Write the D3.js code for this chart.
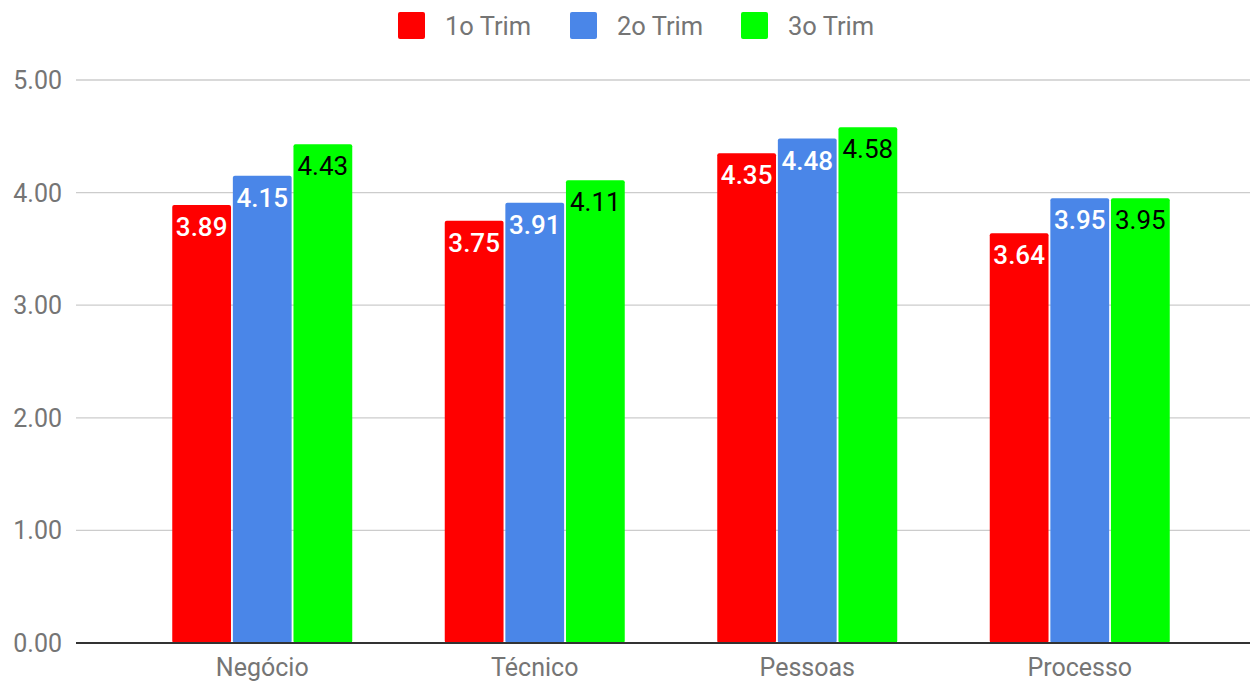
<!DOCTYPE html>
<html><head><meta charset="utf-8">
<script src="https://cdn.jsdelivr.net/npm/d3@7"></script>
<style>body{margin:0;background:#fff;}svg{display:block;font-family:Roboto,sans-serif;}</style>
</head><body><svg id="c" width="1253" height="682"></svg>
<script>
const categories = ["Negócio", "Técnico", "Pessoas", "Processo"];
const seriesNames = ["1o Trim", "2o Trim", "3o Trim"];
const trim1 = [3.89, 3.75, 4.35, 3.64];
const trim2 = [4.15, 3.91, 4.48, 3.95];
const trim3 = [4.43, 4.11, 4.58, 3.95];
const yTicks = [0, 1, 2, 3, 4, 5];
const colors = ["#ff0000", "#4a86e8", "#00ff00"];
const labelColors = ["#ffffff", "#ffffff", "#000000"];
const series = [trim1, trim2, trim3];

const svg = d3.select("#c");
const y = d3.scaleLinear().domain([0, 5]).range([643, 80]);
const x0 = d3.scaleBand().domain(categories).range([126, 1216]).paddingInner(0).paddingOuter(0);
const groupW = 180;
const x1 = d3.scaleBand().domain(seriesNames).range([0, groupW]).paddingInner(0.03);

// gridlines
const gridX1 = 76, gridX2 = 1250;
svg.append("g").selectAll("line").data(yTicks.filter(d => d > 0)).join("line")
  .attr("x1", gridX1).attr("x2", gridX2)
  .attr("y1", d => y(d)).attr("y2", d => y(d))
  .attr("stroke", "#cccccc").attr("stroke-width", 1.3);

// y axis labels
svg.append("g").selectAll("text").data(yTicks).join("text")
  .attr("x", 62).attr("y", d => y(d) + 9)
  .attr("text-anchor", "end").attr("font-size", 25).attr("fill", "#757575")
  .text(d => d3.format(".2f")(d));

// bars
const groups = svg.append("g").selectAll("g").data(categories).join("g")
  .attr("transform", d => `translate(${x0(d) + x0.bandwidth() / 2 - groupW / 2},0)`);
groups.each(function(cat, ci) {
  const g = d3.select(this);
  seriesNames.forEach((s, si) => {
    const v = series[si][ci];
    g.append("rect")
      .attr("x", x1(s)).attr("width", x1.bandwidth())
      .attr("y", y(v)).attr("height", y(0) - y(v))
      .attr("rx", 2)
      .attr("fill", colors[si]);
    g.append("text")
      .attr("x", x1(s) + x1.bandwidth() / 2)
      .attr("y", y(v) + 31)
      .attr("text-anchor", "middle").attr("font-size", 26)
      .attr("font-weight", si === 2 ? 400 : 500)
      .attr("fill", labelColors[si])
      .text(d3.format(".2f")(v));
  });
});

// baseline
svg.append("line").attr("x1", gridX1).attr("x2", gridX2)
  .attr("y1", y(0)).attr("y2", y(0)).attr("stroke", "#333333").attr("stroke-width", 2);

// x axis labels
svg.append("g").selectAll("text").data(categories).join("text")
  .attr("x", d => x0(d) + x0.bandwidth() / 2).attr("y", 676)
  .attr("text-anchor", "middle").attr("font-size", 25).attr("fill", "#757575")
  .text(d => d);

// legend
const legendX = [398, 570, 741];
const lg = svg.append("g").selectAll("g").data(seriesNames).join("g")
  .attr("transform", (d, i) => `translate(${legendX[i]},12)`);
lg.append("rect").attr("width", 27).attr("height", 27).attr("rx", 2)
  .attr("fill", (d, i) => colors[i]);
lg.append("text").attr("x", 47).attr("y", 23).attr("font-size", 25.5).attr("fill", "#757575")
  .text(d => d);
</script></body></html>
